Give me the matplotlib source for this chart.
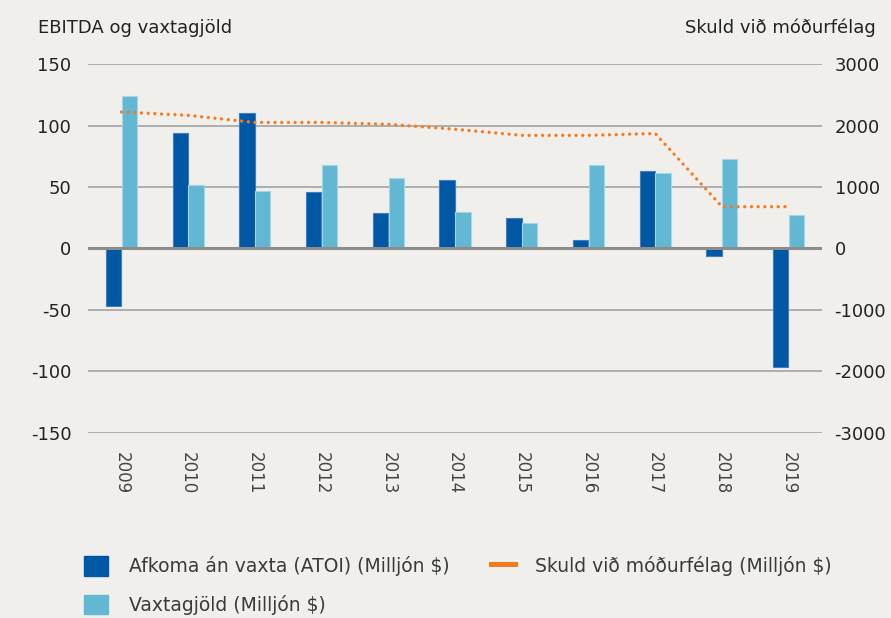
import numpy as np
import matplotlib
matplotlib.use("Agg")
import matplotlib.pyplot as plt
from matplotlib.patches import Patch
from matplotlib.lines import Line2D

plt.rcParams['font.family'] = ['DejaVu Sans']
plt.rcParams['axes.unicode_minus'] = False

years = ['2009', '2010', '2011', '2012', '2013', '2014', '2015', '2016', '2017', '2018', '2019']
atoi = [-47, 94, 110, 46, 29, 56, 25, 7, 63, -6, -96]
vextir = [124, 52, 47, 68, 57, 30, 21, 68, 61, 73, 27]
skuld = [2220, 2165, 2050, 2050, 2020, 1940, 1840, 1840, 1870, 680, 680]

bg = '#f0efeb'
dark = '#0057a4'
light = '#62b8d3'
orange = '#f47b20'
txt = '#222222'

fig = plt.figure(figsize=(8.91, 6.18), dpi=100, facecolor=bg)
ax = fig.add_axes([0.0988, 0.2994, 0.8238, 0.597])
ax.set_facecolor(bg)
ax2 = ax.twinx()

x = np.arange(len(years))
w = 0.23
ax.bar(x - 0.118, atoi, w, color=dark, edgecolor='#3f7fbd', linewidth=0.8, zorder=3)
ax.bar(x + 0.118, vextir, w, color=light, edgecolor='#a4d6e5', linewidth=0.8, zorder=3)

ax.set_ylim(-150, 150)
ax.set_yticks([150, 100, 50, 0, -50, -100, -150])
ax.set_xlim(-0.5, len(years) - 0.5)
ax.set_xticks(x)
ax.set_xticklabels(years, rotation=270)
for v in [150, 100, 50, -50, -100, -150]:
    ax.axhline(v, color='#9c9c9c', lw=1.1, zorder=1)
ax.axhline(0, color='#8c8c8c', lw=2.2, zorder=4)

ax2.plot(x, skuld, color=orange, lw=2.4, linestyle=(0, (0.01, 2.0)),
         dash_capstyle='round', zorder=5)
ax2.set_ylim(-3000, 3000)
ax2.set_yticks([3000, 2000, 1000, 0, -1000, -2000, -3000])
ax2.set_zorder(ax.get_zorder() + 1)
ax2.patch.set_visible(False)

for a in (ax, ax2):
    for s in a.spines.values():
        s.set_visible(False)
    a.tick_params(length=0, labelsize=13, colors=txt)
ax.tick_params(axis='y', pad=12)
ax.tick_params(axis='x', pad=14, colors='#444444', labelsize=12)
ax2.tick_params(axis='y', pad=9)

fig.text(38 / 891, 1 - 28 / 618, 'EBITDA og vaxtagjöld', fontsize=13, color=txt,
         ha='left', va='center')
fig.text(876 / 891, 1 - 28 / 618, 'Skuld við móðurfélag', fontsize=13, color=txt,
         ha='right', va='center')

handles = [Patch(facecolor=dark, edgecolor=dark),
           Patch(facecolor=light, edgecolor=light),
           Line2D([0], [0], color=orange, lw=3.6)]
labels = ['Afkoma án vaxta (ATOI) (Milljón $)', 'Vaxtagjöld (Milljón $)',
          'Skuld við móðurfélag (Milljón $)']
leg = fig.legend(handles, labels, ncol=2, loc='upper left',
                 bbox_to_anchor=(84 / 891, 1 - 556 / 618), frameon=False,
                 fontsize=13.5, handlelength=1.28, handleheight=1.23,
                 handletextpad=1.1, columnspacing=2.2, labelspacing=1.0,
                 borderpad=0, borderaxespad=0)
for t in leg.get_texts():
    t.set_color('#3a3a3a')

fig.savefig('out.png', dpi=100, facecolor=bg)
